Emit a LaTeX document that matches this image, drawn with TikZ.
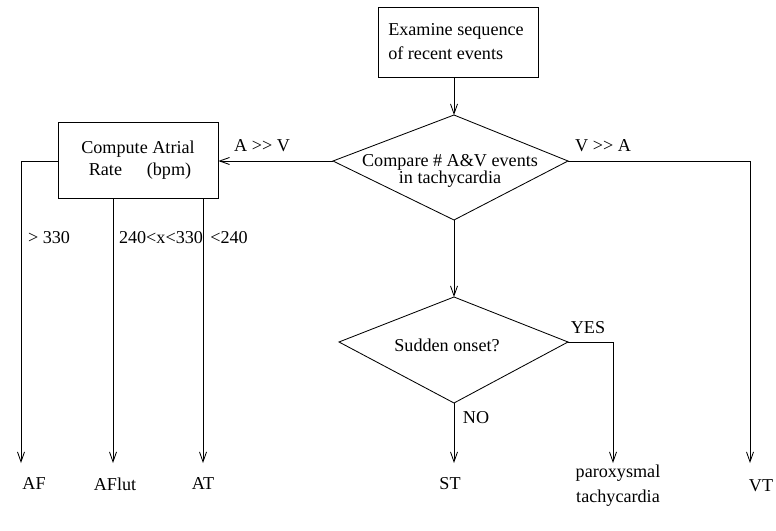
\documentclass[tikz,border=0pt]{standalone}
\usepackage{fontspec}
\setmainfont{Liberation Serif}
\usepackage{tikz}
\usetikzlibrary{arrows.meta, positioning, calc}

\begin{document}
\begin{tikzpicture}[
  x=0.025cm, y=-0.025cm,
  font=\fontsize{12.9}{14}\selectfont,
  line width=0.6pt,
  box/.style={draw, inner sep=0pt, minimum width=4cm},
  txt/.style={inner sep=0pt, align=center},
  arr/.style={-{Straight Barb[length=7pt, width=5pt]}},
]
\useasboundingbox (0,0) rectangle (776,531);

%% --- Top box ---
\node[box, align=left, minimum height=1.75cm] (exam) at (458,42)
      {\hspace*{-0.1cm}Examine sequence\\[3pt]\hspace*{-0.1cm}of recent events};

%% --- Compare diamond ---
\coordinate (cmpT) at (454,115);
\coordinate (cmpL) at (333,161);
\coordinate (cmpR) at (568,161);
\coordinate (cmpB) at (454,220);
\draw (cmpT) -- (cmpR) -- (cmpB) -- (cmpL) -- cycle;
\node[txt, font=\fontsize{12.9}{12}\selectfont] (cmp) at (450,171)
      {Compare \# A\&V events\\in tachycardia};

\draw[arr] (exam.south -| cmpT) -- (cmpT);

%% --- Atrial rate box ---
\node[box, minimum height=1.9cm, align=center] (rate) at (138,160)
      {Compute Atrial\\[2pt]\hspace*{0.1cm}Rate\hspace{0.62cm}(bpm)};
\draw[arr] (cmpL) -- (rate.east |- cmpL);
\node[txt] (av) at (262,146) {A >{}> V};

%% --- Atrial outcomes ---
\coordinate (afIn)   at (21,463);
\coordinate (aflIn)  at (113,463);
\coordinate (atIn)   at (203,463);
\draw[arr] (rate.west |- cmpL) -| (afIn);
\draw[arr] (rate.south -| aflIn) -- (aflIn);
\draw[arr] (rate.south -| atIn) -- (atIn);
\node[txt] (gt330) at (49,238)  {> 330};
\node[txt] (mid)   at (161,238) {240<x<330};
\node[txt] (lt240) at (229,238) {<240};
\node[txt] (af)    at (34,484)  {AF};
\node[txt] (aflut) at (115,484) {AFlut};
\node[txt] (at)    at (203,484) {AT};

%% --- Ventricular branch ---
\coordinate (vtIn) at (750,463);
\draw[arr] (cmpR) -| (vtIn);
\node[txt] (va) at (603,146) {V >{}> A};
\node[txt] (vt) at (761,486) {VT};

%% --- Sudden onset diamond ---
\coordinate (sudT) at (454,297);
\coordinate (sudL) at (339,342);
\coordinate (sudR) at (568,342);
\coordinate (sudB) at (454,403);
\draw (sudT) -- (sudR) -- (sudB) -- (sudL) -- cycle;
\node[txt] (sud) at (447,345) {Sudden onset?};
\draw[arr] (cmpB) -- (sudT);

\coordinate (parIn) at (613,463);
\coordinate (stIn)  at (454,463);
\draw[arr] (sudR) -| (parIn);
\draw[arr] (sudB) -- (stIn);
\node[txt] (yes) at (588,328) {YES};
\node[txt] (no)  at (476,418) {NO};
\node[txt] (st)  at (450,484) {ST};
\node[txt, font=\fontsize{12.9}{18}\selectfont] (par) at (618,486) {paroxysmal\\tachycardia};

\end{tikzpicture}
\end{document}
